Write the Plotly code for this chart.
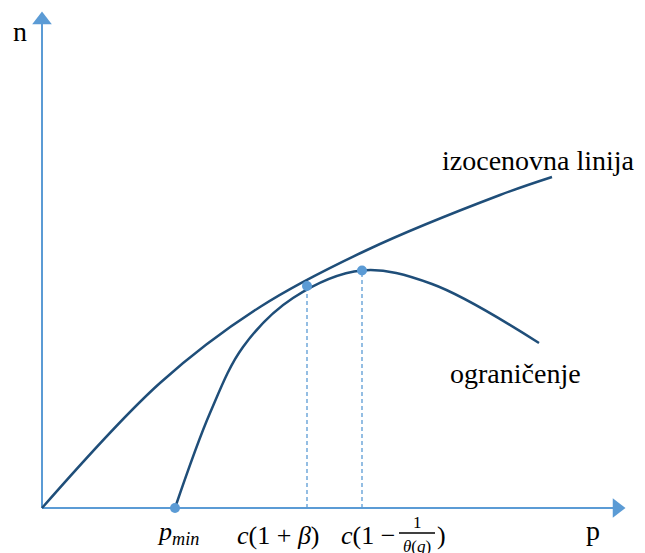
import plotly.graph_objects as go

# Iso-price line (p, n) in chart units (origin at axes crossing)
iso_p = [0, 118, 218, 325, 458, 510]
iso_n = [0, 125, 201, 258, 313, 331]

# Constraint curve
con_p = [133, 168, 201, 251, 320, 390, 497]
con_n = [0, 95, 161, 210, 237.5, 224, 165]

# Marked points: p_min, c(1+beta), c(1-1/theta(q))
pt_p = [133, 265, 320]
pt_n = [0, 222, 237.5]

axis_len_p = 583
axis_len_n = 496

AX = "#5B9BD5"
CV = "#1F4E79"
FONT = "Liberation Serif"

fig = go.Figure()

# axes
fig.add_trace(go.Scatter(x=[0, axis_len_p - 12], y=[0, 0], mode="lines",
                         line=dict(color=AX, width=2), hoverinfo="skip"))
fig.add_trace(go.Scatter(x=[0, 0], y=[0, axis_len_n - 12], mode="lines",
                         line=dict(color=AX, width=2), hoverinfo="skip"))
fig.add_trace(go.Scatter(x=[axis_len_p - 8], y=[0], mode="markers",
                         marker=dict(symbol="triangle-right", size=17, color=AX), hoverinfo="skip"))
fig.add_trace(go.Scatter(x=[0], y=[axis_len_n - 8], mode="markers",
                         marker=dict(symbol="triangle-up", size=17, color=AX), hoverinfo="skip"))

# dashed guides
for i in (1, 2):
    fig.add_trace(go.Scatter(x=[pt_p[i], pt_p[i]], y=[0, pt_n[i]], mode="lines",
                             line=dict(color=AX, width=1.3, dash="4px,3px"), hoverinfo="skip"))

# curves
fig.add_trace(go.Scatter(x=iso_p, y=iso_n, mode="lines",
                         line=dict(color=CV, width=2.5, shape="spline", smoothing=1.0), hoverinfo="skip"))
fig.add_trace(go.Scatter(x=con_p, y=con_n, mode="lines",
                         line=dict(color=CV, width=2.5, shape="spline", smoothing=1.0), hoverinfo="skip"))

# points
fig.add_trace(go.Scatter(x=pt_p, y=pt_n, mode="markers",
                         marker=dict(color=AX, size=10), hoverinfo="skip"))

def txt(x, y, s, size=28, xanchor="center"):
    fig.add_annotation(x=x, y=y, xref="x", yref="y", text=s, showarrow=False,
                       xanchor=xanchor, yanchor="middle",
                       font=dict(family=FONT, size=size, color="black"))

txt(-22, 477, "n")
txt(551, -22, "p")
txt(496, 348, "izocenovna linija")
txt(473, 135, "ograničenje")

# math labels
txt(136, -25, "<i>p</i><sub><i>min</i></sub>", size=26)
txt(236, -27, "<i>c</i>(1 + <i>β</i>)", size=26)
txt(355, -27, "<i>c</i>(1 −", size=26, xanchor="right")
txt(375, -14, "1", size=17)
txt(375, -38, "<i>θ</i>(<i>q</i>)", size=17)
txt(399, -27, ")", size=26)
fig.add_shape(type="line", x0=357, x1=393, y0=-25, y1=-25, xref="x", yref="y",
              line=dict(color="black", width=1.5))

fig.update_layout(
    width=637, height=545,
    margin=dict(l=0, r=0, t=0, b=0),
    paper_bgcolor="white", plot_bgcolor="white",
    showlegend=False,
    xaxis=dict(range=[-34, 603], visible=False, fixedrange=True),
    yaxis=dict(range=[-45, 500], visible=False, fixedrange=True),
)

fig.write_html("out.html")
